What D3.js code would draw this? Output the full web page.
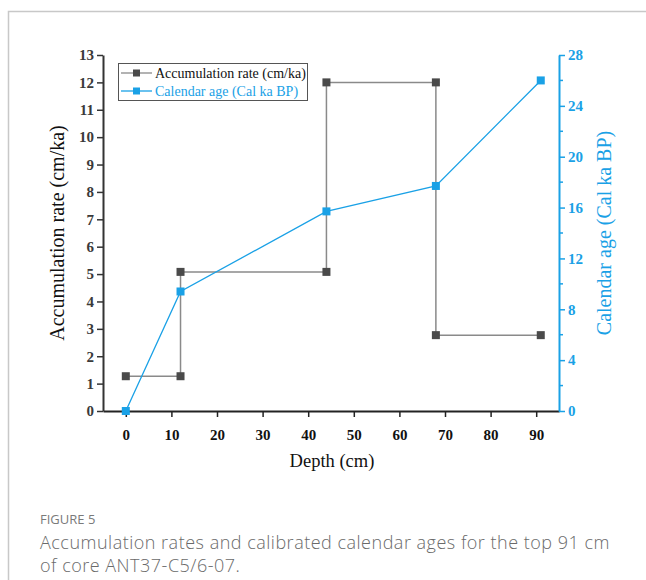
<!DOCTYPE html>
<html>
<head>
<meta charset="utf-8">
<script src="https://cdn.jsdelivr.net/npm/d3@7"></script>
<style>
  body { margin: 0; background: #fff; }
  svg { display: block; }
</style>
</head>
<body>
<svg id="chart" width="646" height="580"></svg>
<script>
// accumulation rate is drawn as a step line through these points
var rateDepth = [0, 12, 12, 44, 44, 68, 68, 91];
var rateValue = [1.27, 1.27, 5.08, 5.08, 12, 12, 2.77, 2.77];

var ageDepth = [0, 12, 44, 68, 91];
var ageValue = [0, 9.4, 15.7, 17.7, 26.0];

var xTicks = [0, 10, 20, 30, 40, 50, 60, 70, 80, 90];
var leftTicks = d3.range(0, 14);
var rightTicks = [0, 4, 8, 12, 16, 20, 24, 28];
var rightMinor = [2, 6, 10, 14, 18, 22, 26];

var legendLabels = ["Accumulation rate (cm/ka)", "Calendar age (Cal ka BP)"];

var gray = "#4a4a4a";
var lineGray = "#8a8a8a";
var blue = "#1aa1e6";
var serif = "'Liberation Serif', 'Times New Roman', serif";

var svg = d3.select("#chart");

// frame around figure
svg.append("path")
    .attr("d", "M8.5,580 V11.5 H646")
    .attr("fill", "none")
    .attr("stroke", "#c8c8c8")
    .attr("stroke-width", 1.5);

var plotLeft = 103, plotRight = 559, plotTop = 55, plotBottom = 411;

var x = d3.scaleLinear().domain([-5, 95]).range([plotLeft, plotRight]);
var yL = d3.scaleLinear().domain([0, 13]).range([plotBottom, plotTop]);
var yR = d3.scaleLinear().domain([0, 28]).range([plotBottom, plotTop]);

// x axis
var xAxis = svg.append("g")
    .attr("transform", "translate(0," + plotBottom + ")")
    .call(d3.axisBottom(x).tickValues(xTicks).tickSize(6).tickSizeOuter(0));
xAxis.select(".domain").attr("stroke", "#222").attr("stroke-width", 2);
xAxis.selectAll(".tick line").attr("stroke", "#222").attr("stroke-width", 1.5);
xAxis.selectAll("text")
    .attr("font-family", serif).attr("font-size", 15).attr("font-weight", "bold")
    .attr("fill", "#111").attr("dy", "1.3em");

// left axis
var lAxis = svg.append("g")
    .attr("transform", "translate(" + plotLeft + ",0)")
    .call(d3.axisLeft(yL).tickValues(leftTicks).tickSize(6).tickSizeOuter(0));
lAxis.select(".domain").attr("stroke", "#333").attr("stroke-width", 2);
lAxis.selectAll(".tick line").attr("stroke", "#333").attr("stroke-width", 1.5);
lAxis.selectAll("text")
    .attr("font-family", serif).attr("font-size", 15).attr("font-weight", "bold")
    .attr("fill", "#3a3a3a").attr("x", -9);

// right axis
var rAxis = svg.append("g")
    .attr("transform", "translate(" + plotRight + ",0)")
    .call(d3.axisRight(yR).tickValues(rightTicks).tickSize(6).tickSizeOuter(0));
rAxis.select(".domain").attr("stroke", blue).attr("stroke-width", 2);
rAxis.selectAll(".tick line").attr("stroke", blue).attr("stroke-width", 1.5);
rAxis.selectAll("text")
    .attr("font-family", serif).attr("font-size", 15).attr("font-weight", "bold")
    .attr("fill", blue).attr("x", 9);
rAxis.selectAll(".minor").data(rightMinor).enter().append("line")
    .attr("class", "minor")
    .attr("x1", 0).attr("x2", 4)
    .attr("y1", function (d) { return yR(d); })
    .attr("y2", function (d) { return yR(d); })
    .attr("stroke", blue).attr("stroke-width", 1.5);

// axis titles
svg.append("text")
    .attr("transform", "translate(64," + ((plotTop + plotBottom) / 2) + ") rotate(-90)")
    .attr("text-anchor", "middle")
    .attr("font-family", serif).attr("font-size", 20)
    .attr("fill", "#111")
    .text("Accumulation rate (cm/ka)");

svg.append("text")
    .attr("transform", "translate(611," + ((plotTop + plotBottom) / 2) + ") rotate(-90)")
    .attr("text-anchor", "middle")
    .attr("font-family", serif).attr("font-size", 20)
    .attr("fill", blue)
    .text("Calendar age (Cal ka BP)");

svg.append("text")
    .attr("x", (plotLeft + plotRight) / 2 + 1).attr("y", 467)
    .attr("text-anchor", "middle")
    .attr("font-family", serif).attr("font-size", 18.5)
    .attr("fill", "#111")
    .text("Depth (cm)");

// accumulation rate step line
var rateIdx = d3.range(rateDepth.length);
var rateLine = d3.line()
    .x(function (d) { return x(rateDepth[d]); })
    .y(function (d) { return yL(rateValue[d]); });

svg.append("path")
    .datum(rateIdx)
    .attr("d", rateLine)
    .attr("fill", "none")
    .attr("stroke", lineGray)
    .attr("stroke-width", 1.5);

svg.selectAll(".rate-pt").data(rateIdx).enter().append("rect")
    .attr("class", "rate-pt")
    .attr("x", function (d) { return x(rateDepth[d]) - 4; })
    .attr("y", function (d) { return yL(rateValue[d]) - 4; })
    .attr("width", 8).attr("height", 8)
    .attr("fill", gray);

// calendar age line
var ageIdx = d3.range(ageDepth.length);
var ageLine = d3.line()
    .x(function (d) { return x(ageDepth[d]); })
    .y(function (d) { return yR(ageValue[d]); });

svg.append("path")
    .datum(ageIdx)
    .attr("d", ageLine)
    .attr("fill", "none")
    .attr("stroke", blue)
    .attr("stroke-width", 1.3);

svg.selectAll(".age-pt").data(ageIdx).enter().append("rect")
    .attr("class", "age-pt")
    .attr("x", function (d) { return x(ageDepth[d]) - 4; })
    .attr("y", function (d) { return yR(ageValue[d]) - 4; })
    .attr("width", 8).attr("height", 8)
    .attr("fill", blue);

// legend
var legend = svg.append("g").attr("transform", "translate(118,63)");
legend.append("rect")
    .attr("x", 0.5).attr("y", 0.5)
    .attr("width", 189).attr("height", 37)
    .attr("fill", "#fff").attr("stroke", "#555").attr("stroke-width", 1);

var legendColors = [[lineGray, gray, "#111"], [blue, blue, blue]];
legendLabels.forEach(function (label, i) {
    var yy = 10 + i * 18;
    var c = legendColors[i];
    legend.append("line")
        .attr("x1", 3).attr("x2", 34).attr("y1", yy).attr("y2", yy)
        .attr("stroke", c[0]).attr("stroke-width", 1.3);
    legend.append("rect")
        .attr("x", 15).attr("y", yy - 3.5).attr("width", 7).attr("height", 7)
        .attr("fill", c[1]);
    legend.append("text")
        .attr("x", 37).attr("y", yy + 4.5)
        .attr("font-family", serif).attr("font-size", 14)
        .attr("fill", c[2])
        .text(label);
});

// caption
var sans = "'Open Sans', 'Noto Sans', sans-serif";
svg.append("text")
    .attr("x", 40).attr("y", 524)
    .attr("font-family", sans).attr("font-size", 13)
    .attr("fill", "#7a7a7a")
    .text("FIGURE 5");

var captionLines = ["Accumulation rates and calibrated calendar ages for the top 91 cm",
                    "of core ANT37-C5/6-07."];
captionLines.forEach(function (line, i) {
    svg.append("text")
        .attr("x", 40).attr("y", 549 + i * 23)
        .attr("font-family", sans).attr("font-size", 18).attr("font-weight", 300)
        .attr("letter-spacing", 0.5)
        .attr("fill", "#6a6a6a")
        .text(line);
});
</script>
</body>
</html>
